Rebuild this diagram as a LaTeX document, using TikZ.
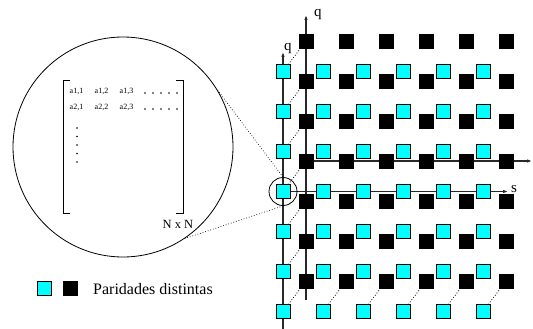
\documentclass[tikz,border=0pt]{standalone}
\usepackage{fontspec}
\setmainfont{Liberation Serif}
\usetikzlibrary{arrows.meta}
\definecolor{sqcyan}{RGB}{0,255,255}
\definecolor{axisgray}{RGB}{40,40,40}
\tikzset{
  sq/.style={draw=black, line width=0.8pt, minimum size=14pt, inner sep=0pt, outer sep=0pt},
  cyanbox/.style={sq, fill=sqcyan},
  blackbox/.style={sq, fill=black},
  axisline/.style={line width=1.2pt, draw=axisgray, -{Latex[length=5pt,width=3.6pt]}},
  link/.style={dotted, line width=0.8pt},
  lbl/.style={inner sep=0pt, font=\fontsize{15}{15}\selectfont},
  entry/.style={inner sep=0pt, anchor=base, font=\fontsize{8}{9}\selectfont},
  lens/.style={circle, draw=black, line width=0.8pt, inner sep=0pt},
  dotmark/.style={fill=black},
}
\begin{document}
\begin{tikzpicture}[x=1pt,y=-1pt]
\useasboundingbox (0,0) rectangle (533,329);

% axes
\coordinate (qa0) at (306,300);
\coordinate (qa1) at (306,15);
\coordinate (qb0) at (283,329);
\coordinate (qb1) at (283,52);
\coordinate (sa0) at (306,161);
\coordinate (sa1) at (532,161);
\coordinate (sb0) at (283,191.5);
\coordinate (sb1) at (508,191.5);
\draw[axisline] (qa0) -- (qa1);
\draw[axisline] (qb0) -- (qb1);
\draw[axisline] (sa0) -- (sa1);
\draw[axisline] (sb0) -- (sb1);
\node[lbl, anchor=base west] (lq1) at (314,17) {q};
\node[lbl, anchor=base west] (lq2) at (284,51) {q};
\node[lbl, anchor=base west] (ls) at (511,192) {s};

% squares
\foreach \i in {0,...,5}{
  \foreach \j in {0,...,6}{
    \node[blackbox] (b-\i-\j) at ({306+40*\i},{41+40*\j}) {};
    \node[cyanbox] (c-\i-\j) at ({283+40*\i},{71.5+40*\j}) {};
  }
}
% dotted pair links
\foreach \j in {0,...,6}{
  \draw[link] (c-0-\j) -- (b-0-\j);
}
\foreach \i in {1,...,5}{
  \draw[link] (c-\i-6) -- (b-\i-6);
}

% magnifier
\node[lens, minimum size=28pt] (small) at (283,191.5) {};
\node[lens, minimum size=220pt] (big) at (123,147) {};
\draw[link, line width=0.7pt] (big.31) -- (small.north);
\draw[link, line width=0.7pt] (big.-56) -- (small.south);

% matrix
\draw[line width=1pt] (70,81) -- (63,81) -- (63,213) -- (70,213);
\draw[line width=1pt] (176,81) -- (183,81) -- (183,213) -- (176,213);
\node[entry] (a11) at (76.5,93.5) {a1,1};
\node[entry] (a12) at (101.5,93.5) {a1,2};
\node[entry] (a13) at (126.5,93.5) {a1,3};
\node[entry] (a21) at (76.5,109.5) {a2,1};
\node[entry] (a22) at (101.5,109.5) {a2,2};
\node[entry] (a23) at (126.5,109.5) {a2,3};
\foreach \k in {0,...,4}{
  \fill[dotmark] ({145+8*\k},93) circle (0.8);
  \fill[dotmark] ({145+8*\k},109) circle (0.8);
  \fill[dotmark] (77,{128+8.5*\k}) circle (0.8);
}
\node[inner sep=0pt, font=\fontsize{12.5}{13}\selectfont] (nxn) at (178,224) {N x N};

% legend
\node[cyanbox] (lc) at (44,288) {};
\node[blackbox] (lb) at (70,288) {};
\node[inner sep=0pt, anchor=west, font=\fontsize{16}{16}\selectfont] (legtext) at (93,289) {Paridades distintas};
\end{tikzpicture}
\end{document}
